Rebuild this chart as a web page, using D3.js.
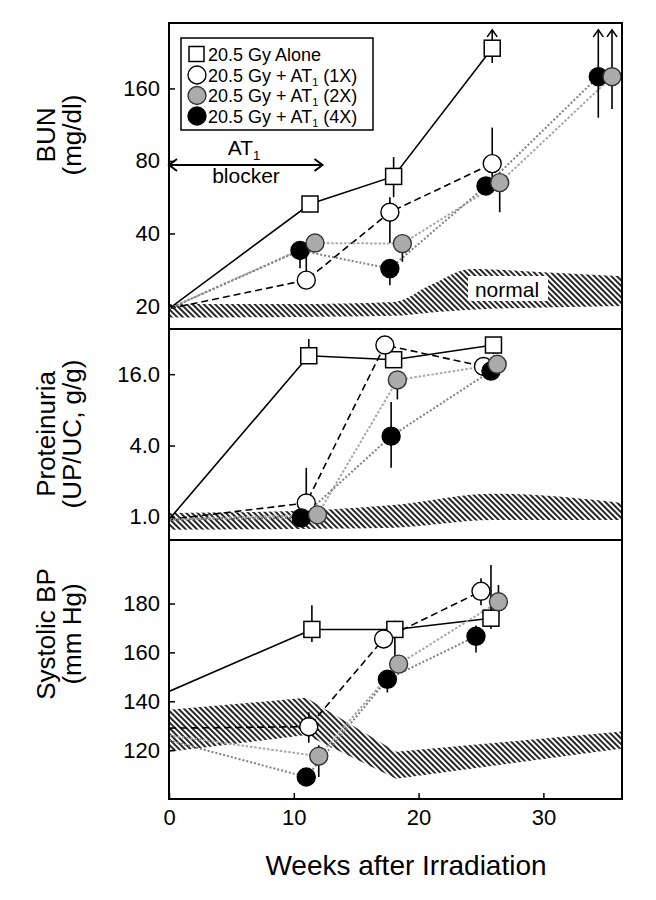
<!DOCTYPE html>
<html><head><meta charset="utf-8">
<script src="https://cdn.jsdelivr.net/npm/d3@7"></script>
<style>
body{margin:0;background:#fff}
text{font-family:"Liberation Sans",Arial,Helvetica,sans-serif;fill:#000}
</style>
</head><body>
<svg id="chart" width="656" height="900"></svg>
<script>
// ---------------- DATA ----------------
const seriesKeys = ["alone", "x1", "x2", "x4"];
const legendMain = ["20.5 Gy Alone", "20.5 Gy + AT", "20.5 Gy + AT", "20.5 Gy + AT"];
const legendSub = ["", "1", "1", "1"];
const legendTail = ["", " (1X)", " (2X)", " (4X)"];
const xTicks = [0, 10, 20, 30];

// BUN (mg/dl)
const bunAloneWeeks = [0, 11.3, 18, 25.9];
const bunAlone = [19.5, 53, 69, 235];
const bunX1Weeks = [0, 11, 17.7, 25.9];
const bunX1 = [19.5, 25.6, 49, 78];
const bunX2Weeks = [0, 11.7, 18.7, 26.5, 35.5];
const bunX2 = [19.5, 36.5, 36.3, 65, 179];
const bunX4Weeks = [0, 10.5, 17.7, 25.4, 34.4];
const bunX4 = [19.5, 34, 28.6, 63, 179];
// [series, week, low, high, arrowUp]
const bunErrors = [
  ["alone", 18, 56.6, 83, false], ["alone", 25.9, 204, 280, true],
  ["x1", 11, 25.6, 34, false], ["x1", 17.7, 36.5, 56.6, false], ["x1", 25.9, 62, 110, false],
  ["x2", 18.7, 30.5, 36.3, false], ["x2", 26.5, 49, 65, false], ["x2", 35.5, 131.5, 280, true],
  ["x4", 10.5, 28.7, 34, false], ["x4", 17.7, 24.4, 28.6, false], ["x4", 34.4, 121, 280, true]
];
const bunNormalWeeks = [0, 10, 18, 21, 24.2, 30, 36.3];
const bunNormalLow = [17.9, 18.0, 18.2, 18.8, 19.3, 19.7, 20];
const bunNormalHigh = [20.4, 20.4, 20.8, 24.5, 28.5, 27.6, 26.6];
const bunTicks = [20, 40, 80, 160];

// Proteinuria (UP/UC, g/g)
const protAloneWeeks = [0, 11.2, 18, 26];
const protAlone = [0.95, 22.9, 21.2, 28.2];
const protX1Weeks = [0, 11, 17.3, 25.2];
const protX1 = [0.95, 1.31, 28.2, 18.6];
const protX2Weeks = [0, 11.9, 18.3, 26.3];
const protX2 = [0.95, 1.04, 14.3, 19.4];
const protX4Weeks = [0, 10.6, 17.8, 25.8];
const protX4 = [0.95, 0.98, 4.8, 17.0];
const protErrors = [
  ["alone", 11.2, 22.9, 31.7, false], ["alone", 26, 23.6, 28.2, false],
  ["x1", 11, 1.31, 2.59, false],
  ["x2", 18.3, 9.8, 14.3, false],
  ["x4", 17.8, 2.6, 9.3, false]
];
const protNormalWeeks = [0, 10, 18, 26, 36.3];
const protNormalLow = [0.78, 0.79, 0.81, 0.94, 0.94];
const protNormalHigh = [1.08, 1.12, 1.26, 1.57, 1.31];
const protTicks = [1, 4, 16];

// Systolic BP (mm Hg)
const bpAloneWeeks = [0, 11.45, 18.1, 25.8];
const bpAlone = [144, 169.4, 169.4, 174];
const bpX1Weeks = [0, 11.2, 17.2, 25];
const bpX1 = [129, 129.6, 165.5, 185];
const bpX2Weeks = [0, 12, 18.4, 26.4];
const bpX2 = [126, 117.5, 155.2, 180.7];
const bpX4Weeks = [0, 11, 17.5, 24.6];
const bpX4 = [124, 109, 149, 166.6];
const bpErrors = [
  ["alone", 11.45, 164.3, 179.3, false], ["alone", 18.1, 155, 173, false], ["alone", 25.8, 169.6, 195.8, false],
  ["x1", 11.2, 123, 135.5, false], ["x1", 25, 179.3, 190.3, false],
  ["x2", 12, 109, 122, false], ["x2", 26.4, 173.8, 187.6, false],
  ["x4", 17.5, 143.6, 149, false], ["x4", 24.6, 160, 171, false]
];
const bpNormalWeeks = [0, 11, 18.2, 36.3];
const bpNormalLow = [119.3, 126.2, 108.3, 120.7];
const bpNormalHigh = [136.5, 141.4, 119.3, 127.6];
const bpTicks = [120, 140, 160, 180];

// ---------------- CHART ----------------
const svg = d3.select("#chart");
const L = 169, R = 622;
const x = d3.scaleLinear().domain([0, 36.3]).range([L, R]);

const styles = {
  alone: {stroke: "#000", dash: null, width: 1.6},
  x1: {stroke: "#000", dash: "7,4", width: 1.6},
  x2: {stroke: "#a8a8a8", dash: "2.5,1.8", width: 2},
  x4: {stroke: "#808080", dash: "2,2", width: 2}
};
const markerFill = {alone: "#fff", x1: "#fff", x2: "#ababab", x4: "#000"};

const defs = svg.append("defs");
const pat = defs.append("pattern").attr("id", "hatch")
  .attr("patternUnits", "userSpaceOnUse").attr("width", 4).attr("height", 4)
  .attr("patternTransform", "rotate(-45)");
pat.append("line").attr("x1", 1).attr("x2", 1).attr("y1", 0).attr("y2", 4)
  .attr("stroke", "#000").attr("stroke-width", 1.7);

function panel(cfg) {
  const {y, top, bottom, series, errors, band, ticks, fmt, id} = cfg;
  defs.append("clipPath").attr("id", "clip" + id).append("rect")
    .attr("x", L).attr("y", top).attr("width", R - L).attr("height", bottom - top);
  const g = svg.append("g");
  const cg = g.append("g").attr("clip-path", `url(#clip${id})`);
  // normal band
  const bandData = band.w.map((w, i) => [w, band.lo[i], band.hi[i]]);
  const area = d3.area().x(d => x(d[0])).y0(d => y(d[1])).y1(d => y(d[2]))
    .curve(band.curve || d3.curveLinear);
  cg.append("path").datum(bandData).attr("d", area).attr("fill", "url(#hatch)");
  if (cfg.after) cfg.after(cg);
  // lines
  const line = d3.line().x(d => x(d[0])).y(d => y(d[1]));
  const lineOrder = ["alone", "x1", "x2", "x4"];
  lineOrder.forEach(k => {
    const s = series[k];
    const pts = s.w.map((w, i) => [w, s.v[i]]);
    cg.append("path").datum(pts).attr("d", line).attr("fill", "none")
      .attr("stroke", styles[k].stroke).attr("stroke-width", styles[k].width)
      .attr("stroke-dasharray", styles[k].dash);
  });
  // error bars
  errors.forEach(e => {
    const [k, w, lo, hi, arrow] = e;
    const xp = x(w);
    cg.append("line").attr("x1", xp).attr("x2", xp).attr("y1", y(lo)).attr("y2", y(hi))
      .attr("stroke", "#000").attr("stroke-width", 1.6);
    if (arrow) {
      const t = y(hi);
      cg.append("path").attr("d", `M${xp - 5},${t + 7}L${xp},${t}L${xp + 5},${t + 7}`)
        .attr("fill", "none").attr("stroke", "#000").attr("stroke-width", 1.6);
    }
  });
  // markers
  const markOrder = ["alone", "x1", "x4", "x2"];
  markOrder.forEach(k => {
    const s = series[k];
    s.w.forEach((w, i) => {
      if (i === 0) return;
      drawMarker(cg, k, x(w), y(s.v[i]));
    });
  });
  // axis
  const ax = d3.axisLeft(y).tickValues(ticks).tickFormat(fmt)
    .tickSizeInner(-6).tickSizeOuter(0).tickPadding(9);
  const axg = g.append("g").attr("transform", `translate(${L},0)`).call(ax);
  axg.select(".domain").remove();
  axg.selectAll("line").attr("stroke", "#000").attr("stroke-width", 1.5);
  axg.selectAll("text").style("font-size", "22px").style("font-family", '"Liberation Sans",Arial,sans-serif');
  return g;
}

function drawMarker(g, k, cx, cy) {
  if (k === "alone") {
    g.append("rect").attr("x", cx - 8).attr("y", cy - 8).attr("width", 16).attr("height", 16)
      .attr("fill", "#fff").attr("stroke", "#000").attr("stroke-width", 1.5);
  } else {
    g.append("circle").attr("cx", cx).attr("cy", cy).attr("r", 9)
      .attr("fill", markerFill[k]).attr("stroke", k === "x2" ? "#333" : "#000").attr("stroke-width", 1.4);
  }
}

// panel scales
const yBun = d3.scaleLog().domain([16.05, 299]).range([329, 23]);
const yProt = d3.scaleLog().domain([0.638, 38.5]).range([540, 329]);
const yBP = d3.scaleLinear().domain([100, 206]).range([799, 540]);

panel({
  id: "bun", y: yBun, top: 23, bottom: 329,
  series: {
    alone: {w: bunAloneWeeks, v: bunAlone}, x1: {w: bunX1Weeks, v: bunX1},
    x2: {w: bunX2Weeks, v: bunX2}, x4: {w: bunX4Weeks, v: bunX4}
  },
  errors: bunErrors,
  band: {w: bunNormalWeeks, lo: bunNormalLow, hi: bunNormalHigh, curve: d3.curveMonotoneX},
  ticks: bunTicks, fmt: d3.format("d"),
  after: cg => {
    cg.append("rect").attr("x", 468).attr("y", 276).attr("width", 80).attr("height", 25).attr("fill", "#fff");
    cg.append("text").attr("x", 507).attr("y", 297).attr("text-anchor", "middle")
      .style("font-size", "21px").text("normal");
  }
});
panel({
  id: "prot", y: yProt, top: 329, bottom: 540,
  series: {
    alone: {w: protAloneWeeks, v: protAlone}, x1: {w: protX1Weeks, v: protX1},
    x2: {w: protX2Weeks, v: protX2}, x4: {w: protX4Weeks, v: protX4}
  },
  errors: protErrors,
  band: {w: protNormalWeeks, lo: protNormalLow, hi: protNormalHigh, curve: d3.curveMonotoneX},
  ticks: protTicks, fmt: d3.format(".1f")
});
panel({
  id: "bp", y: yBP, top: 540, bottom: 799,
  series: {
    alone: {w: bpAloneWeeks, v: bpAlone}, x1: {w: bpX1Weeks, v: bpX1},
    x2: {w: bpX2Weeks, v: bpX2}, x4: {w: bpX4Weeks, v: bpX4}
  },
  errors: bpErrors,
  band: {w: bpNormalWeeks, lo: bpNormalLow, hi: bpNormalHigh},
  ticks: bpTicks, fmt: d3.format("d")
});

// x axis
const xa = d3.axisBottom(x).tickValues(xTicks).tickFormat(d3.format("d"))
  .tickSizeInner(-6).tickSizeOuter(0).tickPadding(10);
const xg = svg.append("g").attr("transform", "translate(0,799)").call(xa);
xg.select(".domain").remove();
xg.selectAll("line").attr("stroke", "#000").attr("stroke-width", 1.5);
xg.selectAll("text").style("font-size", "22px").style("font-family", '"Liberation Sans",Arial,sans-serif');

// frames
svg.append("rect").attr("x", L).attr("y", 23).attr("width", R - L).attr("height", 799 - 23)
  .attr("fill", "none").attr("stroke", "#000").attr("stroke-width", 2);
[329, 540].forEach(yy => svg.append("line").attr("x1", L).attr("x2", R).attr("y1", yy).attr("y2", yy)
  .attr("stroke", "#000").attr("stroke-width", 2));

// AT1 blocker annotation
const blockerEnd = 12.3;
const ay = 165;
svg.append("line").attr("x1", x(0)).attr("x2", x(blockerEnd)).attr("y1", ay).attr("y2", ay)
  .attr("stroke", "#000").attr("stroke-width", 2);
svg.append("path").attr("d", `M${x(0) + 8},${ay - 6}L${x(0)},${ay}L${x(0) + 8},${ay + 6}`)
  .attr("fill", "none").attr("stroke", "#000").attr("stroke-width", 2);
svg.append("path").attr("d", `M${x(blockerEnd) - 8},${ay - 6}L${x(blockerEnd)},${ay}L${x(blockerEnd) - 8},${ay + 6}`)
  .attr("fill", "none").attr("stroke", "#000").attr("stroke-width", 2);
const atT = svg.append("text").attr("x", 244).attr("y", 155).attr("text-anchor", "middle").style("font-size", "21px");
atT.append("tspan").text("AT");
atT.append("tspan").attr("dy", 5).style("font-size", "13px").text("1");
svg.append("text").attr("x", 246).attr("y", 183).attr("text-anchor", "middle").style("font-size", "21px").text("blocker");

// legend
const lg = svg.append("g");
lg.append("rect").attr("x", 181).attr("y", 38).attr("width", 192).attr("height", 92)
  .attr("fill", "#fff").attr("stroke", "#000").attr("stroke-width", 1.5);
const rowY = [54, 75, 95.5, 116];
seriesKeys.forEach((k, i) => {
  const cy = rowY[i];
  if (k === "alone") {
    lg.append("rect").attr("x", 189).attr("y", cy - 7.5).attr("width", 15).attr("height", 15)
      .attr("fill", "#fff").attr("stroke", "#000").attr("stroke-width", 1.5);
  } else {
    lg.append("circle").attr("cx", 197).attr("cy", cy).attr("r", 9)
      .attr("fill", markerFill[k]).attr("stroke", k === "x2" ? "#333" : "#000").attr("stroke-width", 1.4);
  }
  const t = lg.append("text").attr("x", 208).attr("y", cy + 6.5).style("font-size", "18px");
  t.append("tspan").text(legendMain[i]);
  if (legendSub[i]) {
    t.append("tspan").attr("dy", 4).style("font-size", "11px").text(legendSub[i]);
    t.append("tspan").attr("dy", -4).text(legendTail[i]);
  }
});

// axis titles
function vtitle(lines, cy) {
  lines.forEach(s => {
    svg.append("text").attr("transform", `translate(${s.x},${cy}) rotate(-90)`)
      .attr("text-anchor", "middle").style("font-size", "26px").text(s.t);
  });
}
vtitle([{t: "BUN", x: 55}, {t: "(mg/dl)", x: 81}], 135);
vtitle([{t: "Proteinuria", x: 55}, {t: "(UP/UC, g/g)", x: 81}], 434);
vtitle([{t: "Systolic BP", x: 55}, {t: "(mm Hg)", x: 81}], 634);
svg.append("text").attr("x", 406).attr("y", 875).attr("text-anchor", "middle")
  .style("font-size", "28px").text("Weeks after Irradiation");
</script>
</body></html>
